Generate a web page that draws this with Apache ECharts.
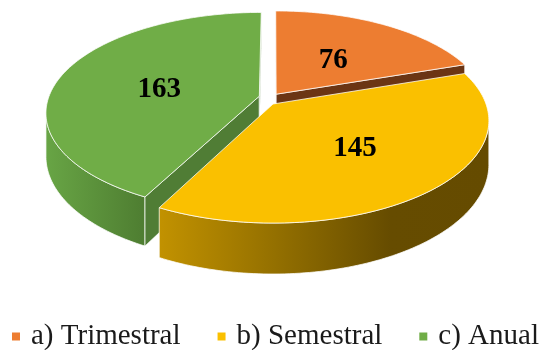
<!DOCTYPE html>
<html>
<head>
<meta charset="utf-8">
<script src="https://cdn.jsdelivr.net/npm/echarts@6/dist/echarts.min.js"></script>
<style>
html, body { margin: 0; background: #fff; }
#chart { width: 542px; height: 350px; }
</style>
</head>
<body>
<div id="chart"></div>
<script>
// datos
var categories = ['a) Trimestral', 'b) Semestral', 'c) Anual'];
var values = [76, 145, 163];

// estilo de cada porción
var topColors = ['#ED7D31', '#FAC000', '#70AD47'];
var faceColors = ['#6b3514', '#8a6a00', '#507d35'];
var wallStops = [
  [[0, '#c8662a'], [1, '#8a4a1e']],
  [[0, '#c29200'], [0.35, '#947000'], [0.7, '#664c00'], [1, '#654b00']],
  [[0, '#68a545'], [1, '#4e7d31']]
];
var explode = [[0.015, 0.1], [0, 0], [-0.065, 0.08]];
var labelR = [0.5, 0.55, 0.5];
var labelDy = [3, 0, 5];
var drawOrder = [0, 2, 1]; // de atrás hacia adelante

// proyección en perspectiva del disco
var CX = 273, CY = 104, SX = 213, SY = 99.7, B = 0.1625, H = 42.7;
function proj(u, v, h) {
  var w = 1 + B * v;
  return [CX + SX * u / w, CY + (-SY * v + h) / w];
}
function area(pts) {
  var s = 0;
  for (var i = 0; i < pts.length; i++) {
    var a = pts[i], b = pts[(i + 1) % pts.length];
    s += a[0] * b[1] - b[0] * a[1];
  }
  return s / 2;
}

var total = values.reduce(function (a, b) { return a + b; }, 0);
var edge = 'rgba(255,255,255,0.75)';

function renderSlice(i) {
  return function (params, api) {
    var before = 0;
    for (var k = 0; k < i; k++) before += values[k];
    var a0 = before / total * Math.PI * 2;
    var a1 = (before + values[i]) / total * Math.PI * 2;
    var du = explode[i][0], dv = explode[i][1];
    function P(r, t, h) { return proj(du + r * Math.sin(t), dv + r * Math.cos(t), h); }

    var n = Math.max(8, Math.ceil((a1 - a0) / 0.02));
    var topArc = [], botArc = [];
    for (var k = 0; k <= n; k++) {
      var t = a0 + (a1 - a0) * k / n;
      topArc.push(P(1, t, 0));
      botArc.push(P(1, t, H));
    }
    var children = [];

    // pared curva, solo la parte visible
    var k0 = -1, k1 = -1;
    for (var k = 0; k < n; k++) {
      if (area([topArc[k], topArc[k + 1], botArc[k + 1], botArc[k]]) < 0) {
        if (k0 < 0) k0 = k;
        k1 = k;
      }
    }
    if (k0 >= 0) {
      var wall = topArc.slice(k0, k1 + 2).concat(botArc.slice(k0, k1 + 2).reverse());
      children.push({
        type: 'polygon',
        shape: { points: wall },
        style: {
          fill: new echarts.graphic.LinearGradient(0, 0, 1, 0, wallStops[i].map(function (s) {
            return { offset: s[0], color: s[1] };
          })),
          stroke: edge, lineWidth: 1, lineJoin: 'round'
        }
      });
    }

    // caras radiales
    var c0 = P(0, 0, 0), c1 = P(0, 0, H);
    var f0 = [c0, P(1, a0, 0), P(1, a0, H), c1];
    var f1 = [c0, P(1, a1, 0), P(1, a1, H), c1];
    [[f0, area(f0) < 0], [f1, area(f1) > 0]].forEach(function (f) {
      if (f[1]) {
        children.push({
          type: 'polygon',
          shape: { points: f[0] },
          style: { fill: faceColors[i], stroke: edge, lineWidth: 1, lineJoin: 'round' }
        });
      }
    });

    // cara superior
    children.push({
      type: 'polygon',
      shape: { points: [c0].concat(topArc) },
      style: { fill: topColors[i], stroke: edge, lineWidth: 1, lineJoin: 'round' }
    });

    // etiqueta
    var lp = P(labelR[i], (a0 + a1) / 2, 0);
    children.push({
      type: 'text',
      x: lp[0], y: lp[1] + labelDy[i],
      style: {
        text: String(values[i]),
        fill: '#000',
        font: 'bold 29px "Liberation Serif", "Times New Roman", serif',
        align: 'center', verticalAlign: 'middle'
      }
    });
    return { type: 'group', children: children };
  };
}

var chart = echarts.init(document.getElementById('chart'));
chart.setOption({
  animation: false,
  legend: {
    data: categories,
    left: 12,
    top: 322,
    padding: 0,
    icon: 'rect',
    itemWidth: 8,
    itemHeight: 8,
    itemGap: 37,
    textStyle: {
      fontFamily: '"Liberation Serif", "Times New Roman", serif',
      fontSize: 29,
      color: '#1a1a1a',
      padding: [0, 0, 0, 6]
    }
  },
  series: drawOrder.map(function (i) {
    return {
      type: 'custom',
      name: categories[i],
      coordinateSystem: 'none',
      itemStyle: { color: topColors[i] },
      data: [[i]],
      renderItem: renderSlice(i)
    };
  })
});
</script>
</body>
</html>
